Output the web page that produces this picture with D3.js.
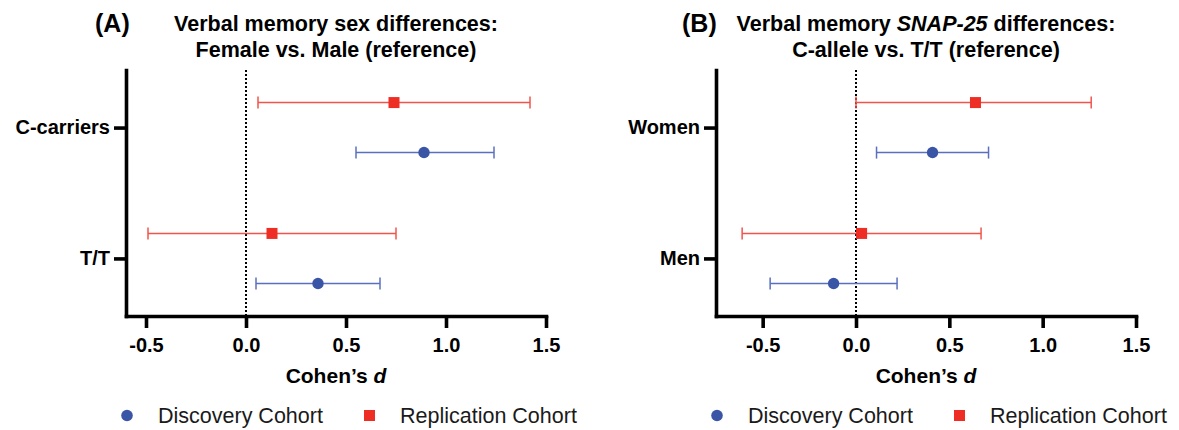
<!DOCTYPE html>
<html>
<head>
<meta charset="utf-8">
<script src="https://cdn.jsdelivr.net/npm/d3@7"></script>
<style>
  body { margin: 0; background: #fff; }
  svg { display: block; font-family: "Liberation Sans", Arial, sans-serif; }
</style>
</head>
<body>
<svg id="chart"></svg>
<script>
// Categories and tick values
var groupsA = ["C-carriers", "T/T"];
var groupsB = ["Women", "Men"];
var xTicks = [-0.5, 0.0, 0.5, 1.0, 1.5];
var legendLabels = ["Discovery Cohort", "Replication Cohort"];

// Panel A: Female vs. Male (Cohen's d with 95% CI)
var discA_d  = [0.89, 0.36];
var discA_lo = [0.55, 0.05];
var discA_hi = [1.24, 0.67];
var repA_d   = [0.74, 0.13];
var repA_lo  = [0.06, -0.49];
var repA_hi  = [1.42, 0.75];

// Panel B: C-allele vs. T/T
var discB_d  = [0.41, -0.12];
var discB_lo = [0.11, -0.46];
var discB_hi = [0.71, 0.22];
var repB_d   = [0.64, 0.03];
var repB_lo  = [0.00, -0.61];
var repB_hi  = [1.26, 0.67];

var width = 1179, height = 430;
var blue = "#3b55a6", blueLine = "#5a70bf";
var red = "#ee2d24", redLine = "#f0554c";

var svg = d3.select("#chart")
    .attr("width", width)
    .attr("height", height);

function drawPanel(p) {
    var g = svg.append("g");

    var x = d3.scaleLinear()
        .domain(p.xDomain)
        .range([p.left, p.left + 420]);

    var y = d3.scalePoint()
        .domain(p.groups)
        .range([70, 316])
        .padding(0.44);

    var cx = p.left + 210;

    // panel letter and title
    g.append("text")
        .attr("x", p.left + p.letterDx)
        .attr("y", 32)
        .style("font-size", "25px")
        .style("font-weight", "bold")
        .text(p.letter);

    var t1 = g.append("text")
        .attr("x", cx)
        .attr("y", 31)
        .attr("text-anchor", "middle")
        .style("font-size", "21.5px")
        .style("font-weight", "bold");
    p.title1.forEach(function(part) {
        t1.append("tspan")
            .style("font-style", part.italic ? "italic" : "normal")
            .text(part.text);
    });

    g.append("text")
        .attr("x", cx)
        .attr("y", 57)
        .attr("text-anchor", "middle")
        .style("font-size", "21.5px")
        .style("font-weight", "bold")
        .text(p.title2);

    // axes
    var xAxis = g.append("g")
        .attr("transform", "translate(0,316)")
        .call(d3.axisBottom(x)
            .tickValues(xTicks)
            .tickFormat(d => d.toFixed(1))
            .tickSize(12)
            .tickSizeOuter(0)
            .tickPadding(10));

    var yAxis = g.append("g")
        .attr("transform", "translate(" + p.left + ",0)")
        .call(d3.axisLeft(y)
            .tickSize(12)
            .tickSizeOuter(0)
            .tickPadding(4));

    [xAxis, yAxis].forEach(function(a) {
        a.select(".domain").attr("stroke", "#000").attr("stroke-width", 3.6).attr("stroke-linecap", "square");
        a.selectAll(".tick line").attr("stroke", "#000").attr("stroke-width", 3.6);
        a.selectAll(".tick text")
            .attr("fill", "#000")
            .style("font-size", "20px")
            .style("font-weight", "bold")
            .style("font-family", "'Liberation Sans', Arial, sans-serif");
    });

    // reference line at d = 0
    g.append("line")
        .attr("x1", x(0)).attr("x2", x(0))
        .attr("y1", 70).attr("y2", 315)
        .attr("stroke", "#000")
        .attr("stroke-width", 2)
        .attr("stroke-dasharray", "2,2");

    // error bars and markers
    var rows = p.groups.map(function(grp, i) {
        return [
            { grp: grp, d: p.rep_d[i], lo: p.rep_lo[i], hi: p.rep_hi[i], off: -25, kind: "rep" },
            { grp: grp, d: p.disc_d[i], lo: p.disc_lo[i], hi: p.disc_hi[i], off: 25, kind: "disc" }
        ];
    }).flat();

    rows.forEach(function(r) {
        var yy = y(r.grp) + r.off;
        var col = r.kind === "rep" ? redLine : blueLine;
        g.append("line")
            .attr("x1", x(r.lo)).attr("x2", x(r.hi))
            .attr("y1", yy).attr("y2", yy)
            .attr("stroke", col).attr("stroke-width", 1.5);
        [r.lo, r.hi].forEach(function(v) {
            g.append("line")
                .attr("x1", x(v)).attr("x2", x(v))
                .attr("y1", yy - 6).attr("y2", yy + 6)
                .attr("stroke", col).attr("stroke-width", 1.5);
        });
        if (r.kind === "rep") {
            g.append("rect")
                .attr("x", x(r.d) - 5.5).attr("y", yy - 5.5)
                .attr("width", 11).attr("height", 11)
                .attr("fill", red);
        } else {
            g.append("circle")
                .attr("cx", x(r.d)).attr("cy", yy)
                .attr("r", 5.7)
                .attr("fill", blue);
        }
    });

    // x axis title
    var xt = g.append("text")
        .attr("x", cx)
        .attr("y", 383)
        .attr("text-anchor", "middle")
        .style("font-size", "21px")
        .style("font-weight", "bold");
    xt.append("tspan").text("Cohen\u2019s ");
    xt.append("tspan").style("font-style", "italic").text("d");

    // legend
    g.append("circle")
        .attr("cx", p.left + 1).attr("cy", 415.5)
        .attr("r", 5.8)
        .attr("fill", blue);
    g.append("text")
        .attr("x", p.left + 32).attr("y", 423)
        .attr("fill", "#1a1a1a")
        .style("font-size", "21.5px")
        .text(legendLabels[0]);
    g.append("rect")
        .attr("x", p.left + 238).attr("y", 410)
        .attr("width", 11).attr("height", 11)
        .attr("fill", red);
    g.append("text")
        .attr("x", p.left + 274).attr("y", 423)
        .attr("fill", "#1a1a1a")
        .style("font-size", "21.5px")
        .text(legendLabels[1]);
}

drawPanel({
    left: 126,
    xDomain: [-0.6, 1.5],
    groups: groupsA,
    letter: "(A)",
    letterDx: -31,
    title1: [{ text: "Verbal memory sex differences:" }],
    title2: "Female vs. Male (reference)",
    disc_d: discA_d, disc_lo: discA_lo, disc_hi: discA_hi,
    rep_d: repA_d, rep_lo: repA_lo, rep_hi: repA_hi
});

drawPanel({
    left: 716,
    xDomain: [-0.75, 1.5],
    groups: groupsB,
    letter: "(B)",
    letterDx: -34,
    title1: [{ text: "Verbal memory " }, { text: "SNAP-25", italic: true }, { text: " differences:" }],
    title2: "C-allele vs. T/T (reference)",
    disc_d: discB_d, disc_lo: discB_lo, disc_hi: discB_hi,
    rep_d: repB_d, rep_lo: repB_lo, rep_hi: repB_hi
});
</script>
</body>
</html>
